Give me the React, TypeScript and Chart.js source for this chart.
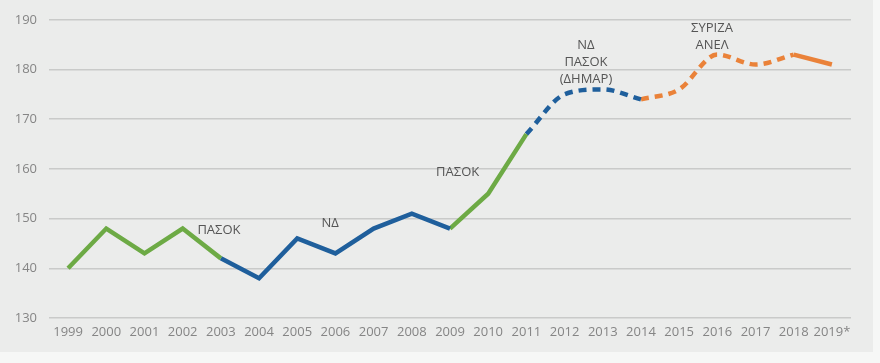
import React, { useEffect, useRef } from "react";
import { Chart, registerables } from "chart.js";

Chart.register(...registerables);

const years = ["1999","2000","2001","2002","2003","2004","2005","2006","2007","2008","2009","2010","2011","2012","2013","2014","2015","2016","2017","2018","2019*"];
const values = [140,148,143,148,142,138,146,143,148,151,148,155,167,175,176,174,176,183,181,183,181];
const yTicks = [130,140,150,160,170,180,190];

const GREEN = "#6daa45";
const BLUE = "#1f5f9c";
const ORANGE = "#ea8239";

// segment ranges (index from, index to), colour, dashed
const segFrom = [0, 4, 10, 12, 15, 19];
const segTo = [4, 10, 12, 15, 19, 20];
const segColor = [GREEN, BLUE, GREEN, BLUE, ORANGE, ORANGE];
const segDashed = [false, false, false, true, true, false];

// annotations: x as category position, y as value
const annText = [["ΠΑΣΟΚ"], ["ΝΔ"], ["ΠΑΣΟΚ"], ["ΝΔ", "ΠΑΣΟΚ", "(ΔΗΜΑΡ)"], ["ΣΥΡΙΖΑ", "ΑΝΕΛ"]];
const annX = [3.95, 6.86, 10.2, 13.56, 16.86];
const annY = [147.6, 149.0, 159.3, 184.8, 188.2];

export default function App() {
  const ref = useRef<HTMLCanvasElement>(null);
  useEffect(() => {
    if (!ref.current) return;
    const datasets = segFrom.map((f, i) => ({
      data: values.map((v, j) => (j >= f && j <= segTo[i] ? v : null)),
      borderColor: segColor[i],
      borderWidth: 4.5,
      borderDash: segDashed[i] ? [8, 6] : [],
      tension: segDashed[i] ? 0.4 : 0,
      cubicInterpolationMode: segDashed[i] ? "monotone" : "default",
      pointRadius: 0,
      fill: false,
      spanGaps: false,
      borderCapStyle: "butt",
      borderJoinStyle: "miter",
    }));
    const annPlugin = {
      id: "ann",
      afterDatasetsDraw(chart: any) {
        const { ctx, scales } = chart;
        const xs = scales.x;
        const ys = scales.y;
        ctx.save();
        ctx.font = "13px 'Open Sans', sans-serif";
        ctx.fillStyle = "#555555";
        ctx.textAlign = "center";
        ctx.textBaseline = "middle";
        const step = xs.getPixelForValue(1) - xs.getPixelForValue(0);
        annText.forEach((lines, i) => {
          const x = xs.getPixelForValue(0) + annX[i] * step;
          const y0 = ys.getPixelForValue(annY[i]);
          lines.forEach((t, k) => ctx.fillText(t, x, y0 + k * 16.8));
        });
        ctx.restore();
      },
    };
    const chart = new Chart(ref.current, {
      type: "line",
      data: { labels: years, datasets: datasets as any },
      options: {
        animation: false,
        responsive: false,
        maintainAspectRatio: false,
        layout: { padding: { left: 0, right: 29, top: 19, bottom: 0 } },
        plugins: { legend: { display: false }, tooltip: { enabled: false } },
        scales: {
          x: {
            offset: true,
            grid: { display: false, drawTicks: false },
            border: { display: false },
            ticks: {
              color: "#858585",
              font: { family: "'Open Sans', sans-serif", size: 13 },
              maxRotation: 0,
              autoSkip: false,
              padding: 6,
            },
            afterFit(s: any) { s.height = 45; },
          },
          y: {
            min: 130,
            max: 190,
            afterBuildTicks(s: any) { s.ticks = yTicks.map((v) => ({ value: v })); },
            grid: { color: "#c9cac9", lineWidth: 1.5, drawTicks: false },
            border: { display: false },
            ticks: {
              color: "#858585",
              font: { family: "'Open Sans', sans-serif", size: 13 },
              padding: 12,
            },
            afterFit(s: any) { s.width = 49; },
          },
        },
      },
      plugins: [annPlugin],
    });
    return () => chart.destroy();
  }, []);
  return (
    <div style={{ position: "fixed", left: 0, top: 0, width: 880, height: 363, background: "#f6f7f6" }}>
      <div style={{ position: "absolute", left: 0, top: 0, width: 873, height: 352, background: "#ebeceb" }} />
      <canvas ref={ref} width={880} height={363} style={{ position: "absolute", left: 0, top: 0, width: 880, height: 363 }} />
    </div>
  );
}
